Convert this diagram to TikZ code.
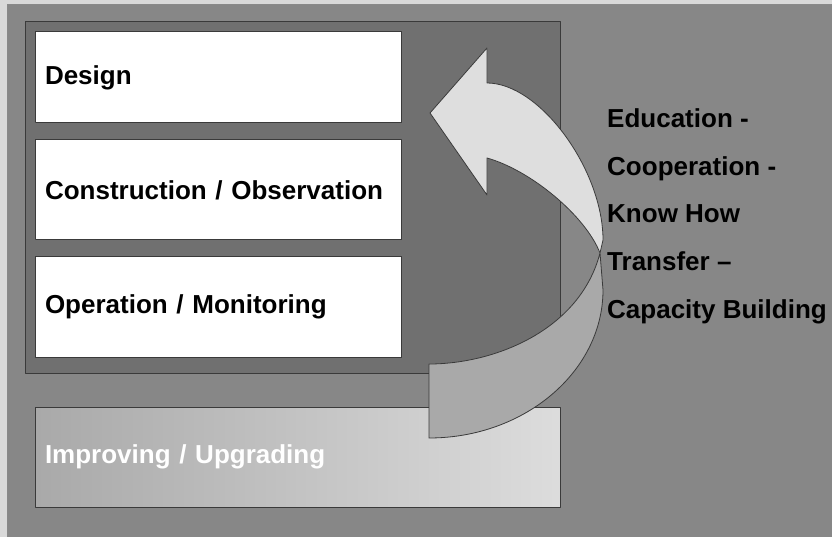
\documentclass[tikz,border=0pt]{standalone}
\usepackage{fontspec}
\setmainfont{Liberation Sans}
\usetikzlibrary{positioning}
\definecolor{bggray}{HTML}{878787}
\definecolor{panelgray}{HTML}{707070}
\definecolor{edgegray}{HTML}{3A3A3A}
\definecolor{bandlight}{HTML}{DEDEDE}
\definecolor{banddark}{HTML}{A9A9A9}

\begin{document}
\begin{tikzpicture}[line cap=round,line join=round,x=1pt,y=-1pt,
  stagebox/.style={draw=edgegray,line width=1pt,fill=white,text width=346pt,inner xsep=10pt,
    minimum height=100pt,align=left,font=\fontsize{26}{31}\selectfont\bfseries},
  topic/.style={font=\fontsize{26}{31}\selectfont\bfseries,inner sep=0pt},
  band/.style={draw=edgegray,line width=0.8pt}]
\useasboundingbox (0,0) rectangle (832,537);
\fill [gray!30] (0,0) rectangle (832,537);
\draw [fill=bggray,draw=edgegray!60] (7,4) rectangle (840,545);
\draw [fill=panelgray,draw=edgegray,line width=1pt] (25,22) rectangle (560,373);
% stages
\node [stagebox,minimum height=91pt] (design) at (218,77.5) {Design};
\node [stagebox] (construction) at (218,190) {Construction / Observation};
\node [stagebox] (operation) at (218,307) {Operation / Monitoring};
\node [stagebox,text width=505pt,left color=banddark,right color=bandlight!105,text=white] (improving) at (297.5,457) {Improving / Upgrading};
% curved arrow
\draw [band,fill=banddark] (429,364) .. controls (495,364) and (580,330) .. (600,253) -- (603,290) .. controls (603,371) and (525,438) .. (429,438) -- cycle;
\draw [band,fill=bandlight] (600,253) .. controls (585,215) and (530,170) .. (487,158) -- (487,195) -- (430,113) -- (487,48) -- (487,83) .. controls (540,83) and (603,170) .. (603,240) -- cycle;
% topics
\foreach \txt [count=\i] in {Education -,Cooperation -,Know How,Transfer –,Capacity Building}
  \node [topic,anchor=base west] (topic\i) at (607,80.5+47.5*\i) {\txt};
\end{tikzpicture}
\end{document}
